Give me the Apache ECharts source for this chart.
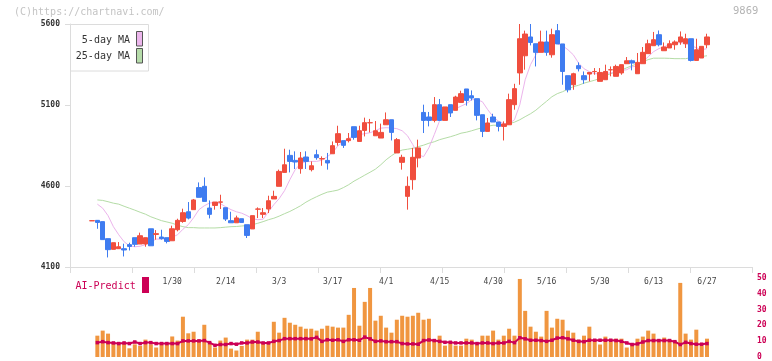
<!DOCTYPE html>
<html><head><meta charset="utf-8">
<script src="https://cdn.jsdelivr.net/npm/echarts@6/dist/echarts.min.js"></script>
<style>html,body{margin:0;padding:0;background:#fff}#c{width:772px;height:361px}</style>
</head><body><div id="c"></div>
<script>
const dates = ['1/8','1/9','1/10','1/14','1/15','1/16','1/17','1/20','1/21','1/22','1/23','1/24','1/27','1/28','1/29','1/30','1/31',
'2/3','2/4','2/5','2/6','2/7','2/10','2/12','2/13','2/14','2/17','2/18','2/19','2/20','2/21','2/25','2/26','2/27','2/28',
'3/3','3/4','3/5','3/6','3/7','3/10','3/11','3/12','3/13','3/14','3/17','3/18','3/19','3/21','3/24','3/25','3/26','3/27','3/28','3/31',
'4/1','4/2','4/3','4/4','4/7','4/8','4/9','4/10','4/11','4/14','4/15','4/16','4/17','4/18','4/21','4/22','4/23','4/24','4/25','4/28','4/30',
'5/1','5/2','5/7','5/8','5/9','5/12','5/13','5/14','5/15','5/16','5/19','5/20','5/21','5/22','5/23','5/26','5/27','5/28','5/29','5/30',
'6/2','6/3','6/4','6/5','6/6','6/9','6/10','6/11','6/12','6/13','6/16','6/17','6/18','6/19','6/20','6/23','6/24','6/25','6/26','6/27'];

const openP = [4385,4388,4380,4275,4209,4213,4213,4238,4281,4242,
4242,4336,4301,4285,4281,4262,4330,4381,4441,4454,
4590,4598,4464,4480,4500,4466,4386,4373,4398,4361,
4335,4457,4425,4458,4520,4598,4684,4789,4758,4707,
4779,4701,4793,4767,4758,4799,4869,4880,4880,4966,
4875,4943,4990,4910,4896,4978,5009,4804,4746,4536,
4639,4773,5054,5026,5005,5102,5005,5102,5067,5116,
5199,5157,5139,5040,4937,5026,4995,4968,4978,5102,
5298,5404,5520,5478,5425,5489,5410,5559,5477,5281,
5225,5343,5281,5291,5306,5246,5256,5317,5277,5298,
5355,5373,5293,5355,5417,5466,5534,5435,5452,5472,
5489,5478,5509,5375,5390,5472];
const closeP = [4386,4375,4269,4207,4250,4225,4205,4227,4240,4293,
4281,4231,4306,4275,4258,4336,4388,4435,4402,4514,
4530,4505,4425,4501,4502,4396,4373,4403,4375,4295,
4417,4458,4435,4509,4536,4690,4731,4752,4748,4773,
4752,4725,4775,4769,4742,4849,4923,4851,4892,4900,
4941,4991,4991,4941,4931,5009,4931,4886,4777,4598,
4777,4835,5005,5005,5102,5005,5088,5051,5149,5170,
5128,5143,5036,4937,4989,4995,4968,4983,5133,5201,
5509,5538,5486,5425,5489,5425,5534,5477,5307,5194,
5293,5324,5256,5301,5307,5301,5307,5318,5338,5349,
5373,5359,5363,5425,5478,5503,5472,5458,5478,5489,
5520,5509,5375,5441,5462,5520];
const lowP = [4385,4336,4269,4159,4209,4213,4165,4202,4225,4242,
4225,4231,4269,4269,4246,4262,4320,4373,4394,4454,
4530,4505,4400,4454,4458,4384,4373,4373,4375,4279,
4335,4402,4402,4433,4520,4598,4684,4684,4705,4676,
4705,4690,4762,4725,4701,4799,4849,4835,4869,4886,
4875,4906,4931,4910,4896,4978,4881,4804,4701,4454,
4577,4715,4927,4968,4993,5005,5005,5026,5067,5116,
5096,5128,5005,4902,4937,4995,4937,4881,4978,5071,
5225,5318,5468,5338,5425,5404,5392,5477,5225,5178,
5194,5307,5231,5246,5287,5246,5256,5277,5277,5287,
5355,5314,5293,5355,5417,5466,5462,5435,5452,5441,
5472,5452,5369,5375,5390,5452];
const highP = [4390,4390,4380,4275,4250,4254,4244,4250,4281,4312,
4281,4336,4328,4330,4281,4355,4398,4460,4501,4520,
4622,4653,4511,4501,4546,4466,4441,4417,4398,4361,
4417,4468,4464,4540,4571,4701,4830,4824,4814,4810,
4814,4752,4824,4783,4804,4875,4972,4880,4927,4966,
4972,5022,5014,5001,4985,5054,5009,4896,4793,4659,
4835,4886,5102,5057,5149,5137,5088,5102,5157,5188,
5199,5190,5139,5040,5020,5046,4995,4999,5170,5231,
5600,5559,5600,5478,5559,5559,5571,5600,5477,5281,
5299,5363,5307,5301,5328,5328,5349,5338,5349,5349,
5396,5380,5421,5458,5503,5551,5560,5486,5499,5499,
5554,5540,5509,5509,5462,5540];

const ma5 = [null,4488,4463,4417,4349,4299,4256,4231,4225,4228,
4238,4256,4272,4273,4275,4284,4299,4333,4361,4404,
4454,4478,4495,4499,4491,4472,4454,4441,4432,4417,
4398,4392,4395,4441,4485,4522,4571,4639,4701,4738,
4750,4752,4752,4759,4781,4806,4849,4873,4895,4910,
4917,4923,4929,4941,4957,4960,4958,4954,4941,4910,
4855,4793,4781,4836,4917,5003,5028,5059,5077,5093,
5108,5133,5133,5120,5071,5028,5000,4985,4985,5009,
5102,5256,5349,5410,5454,5478,5491,5478,5466,5441,
5410,5358,5324,5306,5293,5293,5293,5299,5299,5312,
5318,5336,5340,5367,5398,5429,5448,5460,5472,5481,
5485,5481,5466,5454,5441,5448];
const ma25 = [null,4514,4511,4503,4494,4488,4475,4463,4451,4438,
4426,4410,4398,4386,4378,4370,4358,4349,4343,4343,
4341,4341,4341,4341,4343,4346,4349,4350,4353,4356,
4361,4370,4380,4392,4401,4414,4429,4443,4460,4478,
4500,4518,4534,4549,4562,4568,4575,4590,4608,4630,
4648,4667,4685,4704,4731,4762,4787,4809,4822,4827,
4833,4843,4852,4864,4873,4886,4895,4904,4914,4926,
4932,4941,4951,4960,4969,4975,4975,4977,4985,4994,
5009,5028,5046,5068,5096,5123,5151,5170,5182,5198,
5213,5222,5235,5244,5253,5265,5281,5293,5306,5315,
5330,5343,5355,5367,5380,5389,5389,5389,5388,5386,
5386,5386,5392,5395,5399,5404];

const volume = [null,13.5,16.7,14.8,9,8,9,5.5,8,7,
11,8,6,8,8,13,10.4,25.5,15,16,
11,20.4,9,6,10.4,12.3,5.3,4.1,7,11,
11,16,9,9,22.3,15.4,24.8,21.7,20.4,19.2,
17.9,17.9,16.7,17.9,19.8,19.2,18.6,18.6,26.7,43.7,
19.8,34.9,43.7,23,26.1,18.6,15.4,23.6,26.1,25.5,
26.1,28,23.6,24.2,11,13.5,7.2,8.5,7.2,7.2,
11.6,11,7.9,13.5,13.5,16.7,11,13.5,17.9,13.5,
49.4,29.2,19.2,16,12.9,29.2,18.6,24.2,23.6,16.7,
15.4,11,13.5,19.2,11,7.9,12.9,9.7,11.6,11.6,
6,7.9,11.6,12.9,16.7,14.8,9.7,12.3,11,9.7,
46.9,14.8,11,17.3,7.2,11.6];
const aiPredict = [null,9.1,9.7,9.1,8.9,8.5,8.9,8.5,9.5,8.5,
9.1,9.1,8.5,8.5,8.5,8.5,8.5,10.2,10.2,10.2,
10.2,10.4,9.1,7.4,7.9,7.9,8.5,8.1,8.9,8.9,
9.5,9.5,8.9,8.9,9.9,10.4,11.6,11.6,11.6,11.6,
11.6,11.5,12.4,9.9,10.9,10.6,10.9,9.9,10.9,10.9,
10.6,12.6,11.5,9.9,10.2,9.7,9.7,9.7,8.5,8.3,
8.3,8.1,10.4,10.8,10.4,9.9,9.3,9.3,8.9,8.9,
8.9,8.9,8.5,8.9,8.9,8.5,8.9,8.9,9.9,9.1,
12.2,11.5,10.6,10.6,10.4,9.9,10.6,12,12.2,11.5,
10.6,9.9,9.7,10.6,10.6,10.6,10.6,10.6,10.4,9.9,
8.9,7.9,8.3,9.5,10.4,10.4,10.4,10.4,10.4,9.7,
7.9,9.3,8.5,8.1,8.1,8.5];

const priceMin = 4100, priceMax = 5600, priceStep = 500;
const volMin = 0, volMax = 50, volStep = 10;
const firstLabelIndex = 15, labelEvery = 10;

const mono = "'DejaVu Sans Mono', 'Liberation Mono', monospace";
const chart = echarts.init(document.getElementById('c'), null, {renderer: 'canvas'});
const candles = dates.map((d, i) => [openP[i], closeP[i], lowP[i], highP[i]]);

chart.setOption({
  animation: false,
  backgroundColor: '#fff',
  grid: [
    {left: 70, top: 24, width: 682, height: 243},
    {left: 92, top: 24, width: 615, height: 243},
    {left: 92, top: 278, width: 615, height: 79.5}
  ],
  xAxis: [
    {gridIndex: 0, type: 'value', min: 0, max: 11, interval: 1,
     axisLine: {lineStyle: {color: '#dcdcdc', width: 1}},
     axisTick: {show: true, length: 6, lineStyle: {color: '#dcdcdc'}},
     axisLabel: {show: false}, splitLine: {show: false}},
    {gridIndex: 1, type: 'category', data: dates, boundaryGap: false,
     axisLine: {show: false}, axisTick: {show: false}, splitLine: {show: false},
     axisLabel: {interval: (i) => i >= firstLabelIndex && (i - firstLabelIndex) % labelEvery === 0,
       margin: 11, fontSize: 8, color: '#444', fontFamily: mono}},
    {gridIndex: 2, type: 'category', data: dates, boundaryGap: false, show: false}
  ],
  yAxis: [
    {gridIndex: 0, type: 'value', min: priceMin, max: priceMax, interval: priceStep,
     axisLine: {show: true, lineStyle: {color: '#dcdcdc'}},
     axisTick: {show: true, length: 5, lineStyle: {color: '#dcdcdc'}},
     axisLabel: {fontSize: 8, color: '#333', margin: 10, fontFamily: mono, fontWeight: 'bold',
       formatter: (v) => String(v)},
     splitLine: {show: false}},
    {gridIndex: 1, type: 'value', min: priceMin, max: priceMax, show: false},
    {gridIndex: 2, type: 'value', min: volMin, max: volMax, interval: volStep, position: 'right', offset: 45,
     axisLine: {show: false}, axisTick: {show: false}, splitLine: {show: false},
     axisLabel: {fontSize: 8, color: '#cc0055', margin: 5, fontFamily: mono, fontWeight: 'bold',
       formatter: (v) => String(v)}}
  ],
  series: [
    {type: 'line', name: '25-day MA', xAxisIndex: 1, yAxisIndex: 1, data: ma25, symbol: 'none',
     lineStyle: {color: '#b4dca6', width: 1}, z: 1},
    {type: 'line', name: '5-day MA', xAxisIndex: 1, yAxisIndex: 1, data: ma5, symbol: 'none',
     lineStyle: {color: '#ecb4ec', width: 1}, z: 1},
    {type: 'candlestick', xAxisIndex: 1, yAxisIndex: 1, data: candles, barWidth: 5, clip: false,
     itemStyle: {color: '#f04e3e', color0: '#3f7cf0', borderColor: '#f04e3e', borderColor0: '#3f7cf0', borderWidth: 1}, z: 3},
    {type: 'bar', xAxisIndex: 2, yAxisIndex: 2, data: volume, barWidth: 4, clip: false,
     itemStyle: {color: '#f09640'}, z: 2},
    {type: 'line', xAxisIndex: 2, yAxisIndex: 2, data: aiPredict, symbol: 'rect', symbolSize: 3.5, showSymbol: true,
     lineStyle: {color: '#cc0055', width: 2}, itemStyle: {color: '#cc0055'}, z: 4}
  ],
  graphic: [
    {type: 'text', left: 14, top: 7, style: {text: '(C)https://chartnavi.com/', font: '10px ' + mono, fill: '#c4c4c4'}},
    {type: 'text', left: 733, top: 6, style: {text: '9869', font: '10.5px ' + mono, fill: '#b4b4b4'}},
    {type: 'rect', shape: {x: 70.5, y: 24.5, width: 78, height: 46.5}, style: {fill: '#fff', stroke: '#dcdcdc', lineWidth: 1}, z: 10},
    {type: 'text', x: 130, y: 40.5, style: {text: '5-day MA', font: '10px ' + mono, fill: '#333', align: 'right', verticalAlign: 'middle'}, z: 11},
    {type: 'text', x: 130, y: 56.5, style: {text: '25-day MA', font: '10px ' + mono, fill: '#333', align: 'right', verticalAlign: 'middle'}, z: 11},
    {type: 'rect', shape: {x: 136.5, y: 31.5, width: 6, height: 14.5}, style: {fill: '#ecb6ec', stroke: '#555', lineWidth: 1}, z: 11},
    {type: 'rect', shape: {x: 136.5, y: 48.5, width: 6, height: 14.5}, style: {fill: '#b6dcaa', stroke: '#555', lineWidth: 1}, z: 11},
    {type: 'text', x: 75.5, y: 286, style: {text: 'AI-Predict', font: '10px ' + mono, fill: '#cc0055', verticalAlign: 'middle'}},
    {type: 'rect', shape: {x: 142, y: 277, width: 7, height: 16}, style: {fill: '#cc0055'}}
  ]
});
</script></body></html>
